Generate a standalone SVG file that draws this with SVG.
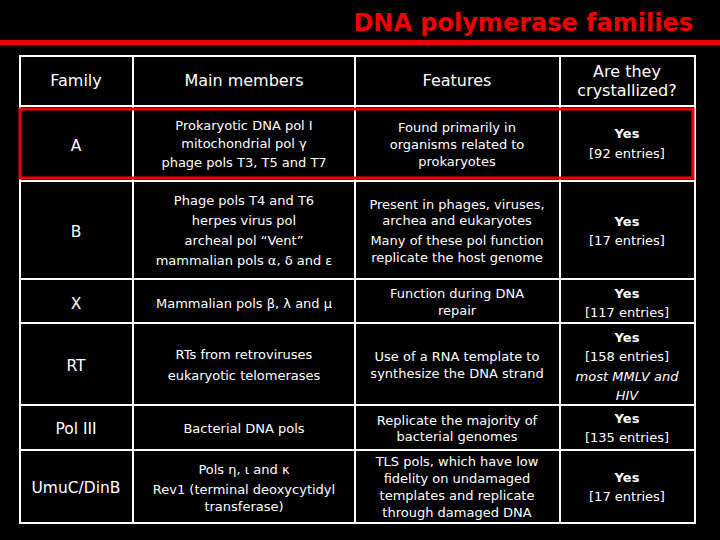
<svg xmlns="http://www.w3.org/2000/svg" width="720" height="540" viewBox="0 0 720 540">
<style>
text{font-family:"DejaVu Sans","Noto Sans",sans-serif;fill:#fff;text-anchor:middle;font-size:13px}
.h{font-size:16px}
.f{font-size:15.5px}
.b{font-weight:bold}
.i{font-style:italic}
.g line{stroke:#fff;stroke-width:2}
</style>
<rect width="720" height="540" fill="#000"/>
<text x="693" y="31" style="font-size:24px;font-weight:bold;fill:#e00;text-anchor:end;font-family:'DejaVu Sans',sans-serif">DNA polymerase families</text>
<rect x="0" y="40" width="720" height="5" fill="#e00"/>
<g class="g">
<rect x="20" y="56" width="675" height="467" fill="none" stroke="#fff" stroke-width="2"/>
<line x1="133" y1="56" x2="133" y2="523"/>
<line x1="355" y1="56" x2="355" y2="523"/>
<line x1="560" y1="56" x2="560" y2="523"/>
<line x1="20" y1="106" x2="695" y2="106"/>
<line x1="20" y1="181" x2="695" y2="181"/>
<line x1="20" y1="279" x2="695" y2="279"/>
<line x1="20" y1="323" x2="695" y2="323"/>
<line x1="20" y1="405" x2="695" y2="405"/>
<line x1="20" y1="450" x2="695" y2="450"/>
</g>
<g id="header">
<text class="h" x="76" y="86">Family</text>
<text class="h" x="244" y="86">Main members</text>
<text class="h" x="457" y="86">Features</text>
<text class="h" x="627" y="77">Are they</text>
<text class="h" x="627" y="96">crystallized?</text>
</g>
<g id="rowA">
<text class="f" x="76" y="151">A</text>
<text x="244" y="130">Prokaryotic DNA pol I</text>
<text x="244" y="148">mitochondrial pol γ</text>
<text x="244" y="167">phage pols T3, T5 and T7</text>
<text x="457" y="132">Found primarily in</text>
<text x="457" y="149">organisms related to</text>
<text x="457" y="166">prokaryotes</text>
<text class="b" x="627" y="138">Yes</text>
<text x="627" y="158">[92 entries]</text>
</g>
<rect x="20" y="109" width="673" height="69" fill="none" stroke="#e00" stroke-width="3"/>
<g id="rowB">
<text class="f" x="76" y="237">B</text>
<text x="244" y="205">Phage pols T4 and T6</text>
<text x="244" y="225">herpes virus pol</text>
<text x="244" y="245">archeal pol “Vent”</text>
<text x="244" y="265">mammalian pols α, δ and ε</text>
<text x="457" y="209">Present in phages, viruses,</text>
<text x="457" y="225">archea and eukaryotes</text>
<text x="457" y="245">Many of these pol function</text>
<text x="457" y="262">replicate the host genome</text>
<text class="b" x="627" y="226">Yes</text>
<text x="627" y="245">[17 entries]</text>
</g>
<g id="rowX">
<text class="f" x="76" y="309">X</text>
<text x="244" y="308">Mammalian pols β, λ and μ</text>
<text x="457" y="298">Function during DNA</text>
<text x="457" y="315">repair</text>
<text class="b" x="627" y="298">Yes</text>
<text x="627" y="317">[117 entries]</text>
</g>
<g id="rowRT">
<text class="f" x="76" y="371">RT</text>
<text x="244" y="359">RTs from retroviruses</text>
<text x="244" y="380">eukaryotic telomerases</text>
<text x="457" y="361">Use of a RNA template to</text>
<text x="457" y="378">synthesize the DNA strand</text>
<text class="b" x="627" y="342">Yes</text>
<text x="627" y="361">[158 entries]</text>
<text class="i" x="627" y="381">most MMLV and</text>
<text class="i" x="627" y="400">HIV</text>
</g>
<g id="rowPol3">
<text class="f" x="76" y="434">Pol III</text>
<text x="244" y="433">Bacterial DNA pols</text>
<text x="457" y="425">Replicate the majority of</text>
<text x="457" y="441">bacterial genomes</text>
<text class="b" x="627" y="423">Yes</text>
<text x="627" y="442">[135 entries]</text>
</g>
<g id="rowUmuC">
<text class="f" x="76" y="493">UmuC/DinB</text>
<text x="244" y="474">Pols η, ι and κ</text>
<text x="244" y="494">Rev1 (terminal deoxycytidyl</text>
<text x="244" y="511">transferase)</text>
<text x="457" y="466">TLS pols, which have low</text>
<text x="457" y="483">fidelity on undamaged</text>
<text x="457" y="500">templates and replicate</text>
<text x="457" y="517">through damaged DNA</text>
<text class="b" x="627" y="482">Yes</text>
<text x="627" y="501">[17 entries]</text>
</g>
</svg>
